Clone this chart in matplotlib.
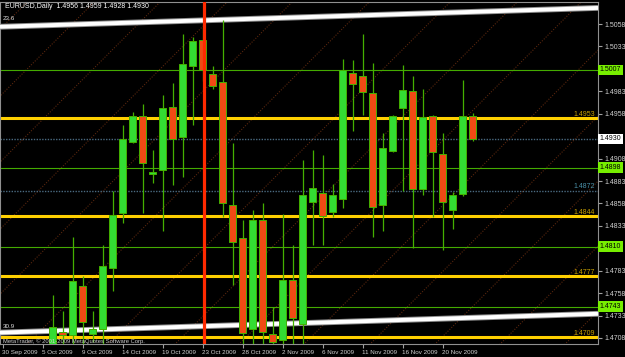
import matplotlib
matplotlib.use('Agg')
import matplotlib.pyplot as plt
from matplotlib.transforms import blended_transform_factory

plt.rcParams['font.family'] = ['Liberation Sans', 'DejaVu Sans']

# Bougies journalieres EURUSD (index de barre, ouverture, haut, bas, cloture)
bar_idx = list(range(5, 48))
opens = [1.4690, 1.4715, 1.4711, 1.4766, 1.4712, 1.4718, 1.4786, 1.4847, 1.4927, 1.4955,
         1.4891, 1.4895, 1.4965, 1.4932, 1.5011, 1.5040, 1.5002, 1.4993, 1.4856, 1.4819,
         1.4718, 1.4840, 1.4713, 1.4706, 1.4773, 1.4724, 1.4860, 1.4870, 1.4848, 1.4863,
         1.5003, 1.5000, 1.4981, 1.4856, 1.4916, 1.4964, 1.4983, 1.4874, 1.4955, 1.4913,
         1.4851, 1.4868, 1.4956]
highs = [1.4756, 1.4738, 1.4821, 1.4777, 1.4738, 1.4812, 1.4872, 1.4946, 1.4960, 1.4969,
         1.4918, 1.4979, 1.4992, 1.5047, 1.5044, 1.5055, 1.5011, 1.5063, 1.4925, 1.4839,
         1.4851, 1.4858, 1.4742, 1.4846, 1.4812, 1.4907, 1.4918, 1.4912, 1.4880, 1.5019,
         1.5018, 1.5047, 1.5015, 1.4937, 1.4957, 1.5012, 1.5000, 1.4986, 1.4957, 1.4936,
         1.4871, 1.4996, 1.4959]
lows = [1.4685, 1.4700, 1.4700, 1.4700, 1.4703, 1.4700, 1.4760, 1.4836, 1.4925, 1.4847,
        1.4881, 1.4827, 1.4879, 1.4888, 1.4946, 1.4995, 1.4986, 1.4843, 1.4767, 1.4698,
        1.4700, 1.4700, 1.4698, 1.4695, 1.4700, 1.4700, 1.4812, 1.4812, 1.4843, 1.4853,
        1.4939, 1.4957, 1.4821, 1.4827, 1.4915, 1.4872, 1.4808, 1.4867, 1.4843, 1.4806,
        1.4830, 1.4866, 1.4928]
closes = [1.4720, 1.4711, 1.4771, 1.4726, 1.4718, 1.4788, 1.4845, 1.4930, 1.4956, 1.4903,
          1.4893, 1.4964, 1.4930, 1.5014, 1.5039, 1.5007, 1.4989, 1.4858, 1.4815, 1.4714,
          1.4840, 1.4715, 1.4704, 1.4773, 1.4730, 1.4867, 1.4875, 1.4844, 1.4867, 1.5007,
          1.4991, 1.4982, 1.4854, 1.4920, 1.4956, 1.4984, 1.4874, 1.4954, 1.4915, 1.4860,
          1.4867, 1.4955, 1.4930]

date_idx = [0, 4, 8, 12, 16, 20, 24, 28, 32, 36, 40, 44]
date_labels = ['30 Sep 2009', '5 Oct 2009', '9 Oct 2009', '14 Oct 2009', '19 Oct 2009',
               '23 Oct 2009', '28 Oct 2009', '2 Nov 2009', '6 Nov 2009', '11 Nov 2009',
               '16 Nov 2009', '20 Nov 2009']

price_ticks = [1.4708, 1.4733, 1.4758, 1.4783, 1.4833, 1.4858, 1.4883, 1.4908,
               1.4958, 1.4983, 1.5033, 1.5058]

# lignes horizontales
yellow_levels = [1.4953, 1.4844, 1.4777, 1.4709]
yellow_names = ['1.4953', '1.4844', '1.4777', '1.4709']
green_levels = [1.5007, 1.4898, 1.4810, 1.4743]
green_names = ['1.5007', '1.4898', '1.4810', '1.4743']
blue_levels = [1.4930, 1.4872]
current_price = 1.4930

# canal (deux points par ligne)
chan_x = [-0.25, 59.55]
chan_top = [1.5055, 1.5076]
chan_bot = [1.4714, 1.4735]

vline_bar = 20.15

# grille diagonale
diag_slope = 0.001115
diag_ref_price = 1.5083
diag_start = [2.5, 9.2, 15.8, 22.5, 29.0, 36.7, 44.8, 51.5, 57.9, 64.4, 71.0, 77.5, 84.0, 90.5]

fig = plt.figure(figsize=(6.25, 3.57), dpi=100, facecolor='black')
ax = fig.add_axes([0 / 625, (357 - 344) / 357, 598 / 625, 342 / 357])
ax.set_facecolor('black')
ax.set_xlim(-0.25, 59.55)
ax.set_ylim(1.47013, 1.50826)

# diagonales
for a in diag_start:
    xs = [a - 40, a + 5]
    ys = [diag_ref_price + diag_slope * (x - a) for x in xs]
    ax.plot(xs, ys, color='#58260e', lw=0.8, ls=(0, (1, 1.4)), zorder=1)

for lv in yellow_levels:
    ax.axhline(lv, color='#ffd000', lw=2.2, zorder=2)
for lv in green_levels:
    ax.axhline(lv, color='#44aa00', lw=0.8, zorder=2)
for lv in blue_levels:
    ax.axhline(lv, color='#4a6a80', lw=1.0, ls=(0, (1, 1)), zorder=2)

ax.plot(chan_x, chan_top, color='#909090', lw=4.2, zorder=3, solid_capstyle='butt')
ax.plot(chan_x, chan_top, color='white', lw=2.8, zorder=3, solid_capstyle='butt')
ax.plot(chan_x, chan_bot, color='#909090', lw=4.2, zorder=3, solid_capstyle='butt')
ax.plot(chan_x, chan_bot, color='white', lw=2.8, zorder=3, solid_capstyle='butt')

# bougies
for i, o, h, l, c in zip(bar_idx, opens, highs, lows, closes):
    ax.vlines(i, l, h, color='#44b000', lw=0.9, zorder=4)
    body_col = '#33dd33' if c >= o else '#f04a14'
    ax.bar(i, max(abs(c - o), 0.00004), bottom=min(o, c), width=0.7,
           color=body_col, edgecolor='#44b000', lw=0.7, zorder=5)

ax.axvline(vline_bar, color='#ff2a00', lw=2.3, zorder=6)

# etiquettes des niveaux dans le graphique
tr = blended_transform_factory(ax.transAxes, ax.transData)
for lv, nm in zip(yellow_levels, yellow_names):
    ax.text(0.995, lv + 0.00005, nm, transform=tr, ha='right', va='bottom', fontsize=5,
            color='#c8a000', zorder=7)
ax.text(0.995, blue_levels[1] + 0.00005, '1.4872', transform=tr, ha='right', va='bottom',
        fontsize=5, color='#4a90a8', zorder=7)

# axe des prix a droite
ax.yaxis.tick_right()
ax.set_yticks(price_ticks)
ax.set_yticklabels(['%.4f' % p for p in price_ticks])
ax.tick_params(axis='y', colors='#d0d0d0', labelsize=5, length=3, pad=1.5,
               color='#a0a0a0')
for lv, nm in zip(green_levels, green_names):
    ax.text(1.003, lv, nm, transform=tr, ha='left', va='center', fontsize=5,
            color='black', clip_on=False, zorder=8,
            bbox=dict(boxstyle='square,pad=0.25', fc='#77ee00', ec='none'))
ax.text(1.003, current_price, '%.4f' % current_price, transform=tr, ha='left',
        va='center', fontsize=5, color='black', clip_on=False, zorder=8,
        bbox=dict(boxstyle='square,pad=0.25', fc='white', ec='none'))

ax.set_xticks(date_idx)
ax.set_xticklabels(date_labels, ha='left')
ax.tick_params(axis='x', colors='#d0d0d0', labelsize=4.5, length=3, pad=1.5,
               color='#a0a0a0')

for sp in ax.spines.values():
    sp.set_color('#909090')
    sp.set_linewidth(0.8)

fig.text(5 / 625, 1 - 7 / 357, 'EURUSD,Daily  1.4956 1.4959 1.4928 1.4930',
         color='white', fontsize=5, va='center', ha='left')
ax.text(0.006, 1.50637, '23.6', color='#e0e0e0', fontsize=4.5, va='center', zorder=7)
ax.text(0.006, 1.47203, '30.9', color='#e0e0e0', fontsize=4.5, va='center', zorder=7)
ax.text(0.006, 1.47045, 'MetaTrader, \u00a9 2001-2009 MetaQuotes Software Corp.',
        color='#d0d0d0', fontsize=4.2, va='center', zorder=7)

fig.savefig('out.png', dpi=100, facecolor='black')
